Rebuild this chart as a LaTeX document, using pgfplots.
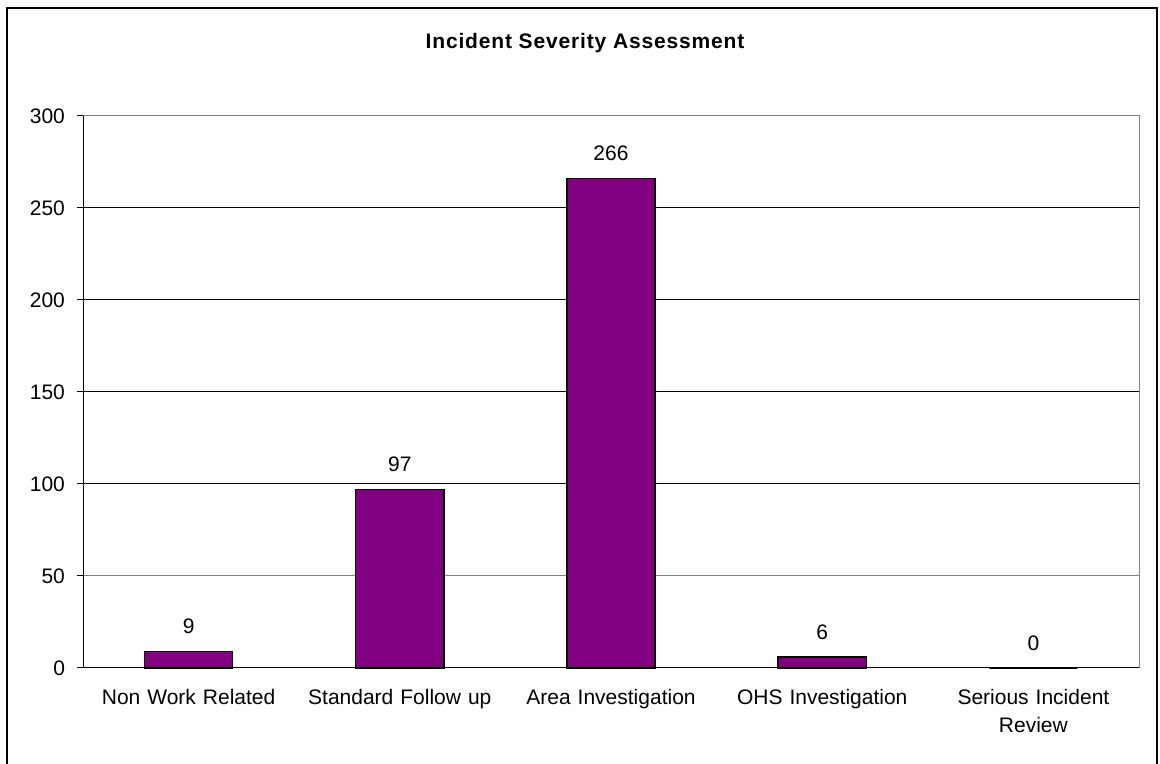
\documentclass[border=0pt]{standalone}
\usepackage{fontspec}
\setmainfont{Liberation Sans}
\usepackage{pgfplots}
\pgfplotsset{compat=1.18}
\definecolor{barpurple}{HTML}{800080}
\definecolor{framegray}{HTML}{808080}

\begin{document}
\begin{tikzpicture}[x=0.5pt,y=0.5pt]
  % the plot area's lower-left corner sits at the origin
  \useasboundingbox (-83,-96) rectangle (1077,668);
  % chart frame (its lower edge runs below the page)
  \draw[black, line width=0.6pt] (-76,660) rectangle (1074,-140);
  % title
  \node[font={\fontsize{10.5pt}{12pt}\selectfont\bfseries\addfontfeature{LetterSpace=4}}]
    at (502,625) {Incident Severity Assessment};

  \begin{axis}[
    scale only axis, width=528pt, height=276pt,
    xmin=-0.5, xmax=4.5, ymin=0, ymax=300,
    ytick={0,100,150,200,250,300},
    extra y ticks={50},
    extra y tick style={grid style={framegray, line width=0.5pt}},
    ymajorgrids,
    grid style={black, line width=0.5pt},
    xtick={0,1,2,3,4},
    xticklabels={Non Work Related, Standard Follow up, Area Investigation, OHS Investigation, {Serious Incident\\Review}},
    x tick label style={align=center, text width=100pt, font={\fontsize{10.5pt}{14pt}\selectfont}, yshift=-4pt},
    y tick label style={font={\fontsize{10.5pt}{12pt}\selectfont}, xshift=-2.5pt},
    /pgf/number format/assume math mode=true,
    minor xtick={-0.5,0.5,...,4.5},
    tick align=outside, tick pos=left,
    major tick length=3pt, minor tick length=3pt,
    x tick style={draw=none},
    every minor tick/.style={black, line width=0.5pt, draw=black},
    y tick style={black, line width=0.5pt},
    axis line style={draw=none},
    ybar, bar width=0.417,
    nodes near coords,
    every node near coord/.append style={font={\fontsize{10.5pt}{12pt}\selectfont}, anchor=center, yshift=12.5pt},
    clip=false,
    after end axis/.code={
      \draw[framegray, line width=0.5pt] (rel axis cs:0,1) -- (rel axis cs:1,1) -- (rel axis cs:1,0);
      \draw[black, line width=0.5pt] (rel axis cs:0,1) -- (rel axis cs:0,0) -- (rel axis cs:1,0);
    },
  ]
    \addplot[fill=barpurple, draw=black, line width=0.7pt]
      coordinates {(0,9) (1,97) (2,266) (3,6) (4,0)};
  \end{axis}
\end{tikzpicture}
\end{document}
